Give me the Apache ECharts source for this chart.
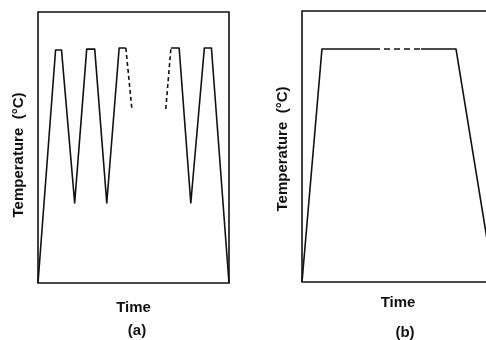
<!DOCTYPE html>
<html>
<head>
<meta charset="utf-8">
<style>
  html, body { margin: 0; padding: 0; background: #fff; }
  #chart { width: 486px; height: 340px; }
</style>
<script src="https://cdn.jsdelivr.net/npm/echarts@6/dist/echarts.min.js"></script>
</head>
<body>
<div id="chart"></div>
<script>
// (a) cyclic heating: time (0-100) vs temperature (0-100), solid runs and the dashed break
const cycleSolidA = [[0, 0], [9.2, 86.0], [12.3, 86.0], [19.2, 29.5], [25.5, 86.3], [29.7, 86.3],
                     [36.0, 29.5], [42.5, 86.7], [46.0, 86.7]];
const cycleDashA1 = [[46.0, 86.7], [49.2, 63.8]];
const cycleDashA2 = [[66.9, 64.2], [69.6, 86.7]];
const cycleSolidA2 = [[69.6, 86.7], [73.9, 86.7], [80.0, 29.5], [87.1, 86.7], [90.8, 86.7], [100, 0]];

// (b) single long hold
const holdSolidB1 = [[0, 0], [10.4, 86.0], [37.5, 86.0]];
const holdDashB = [[37.5, 86.0], [62.0, 86.0]];
const holdSolidB2 = [[62.0, 86.0], [80.2, 86.0], [100, 0]];

const yName = 'Temperature  (°C)';
const xName = 'Time';
const panelTags = ['(a)', '(b)'];

const ink = '#111';
const font = 'Liberation Sans, Arial, Helvetica, sans-serif';
const labelStyle = { color: ink, fontSize: 15, fontWeight: 'bold', fontFamily: font };

function xAx(gridIndex, gap) {
  return {
    type: 'value', gridIndex, min: 0, max: 100,
    axisLine: { show: false }, axisTick: { show: false },
    axisLabel: { show: false }, splitLine: { show: false },
    name: xName, nameLocation: 'middle', nameGap: gap,
    nameTextStyle: labelStyle
  };
}
function yAx(gridIndex, gap, shift) {
  return {
    type: 'value', gridIndex, min: 0, max: 100,
    axisLine: { show: false }, axisTick: { show: false },
    axisLabel: { show: false }, splitLine: { show: false },
    name: yName, nameLocation: 'middle', nameGap: gap, nameRotate: 90,
    nameTextStyle: Object.assign({ padding: [0, shift, 0, 0] }, labelStyle)
  };
}
function line(data, xi, dash) {
  return {
    type: 'line', xAxisIndex: xi, yAxisIndex: xi, data,
    symbol: 'none', silent: true,
    lineStyle: { color: ink, width: 1.6, type: dash || 'solid', join: 'round' }
  };
}

const chart = echarts.init(document.getElementById('chart'), null, { renderer: 'canvas' });
chart.setOption({
  animation: false,
  backgroundColor: '#fff',
  grid: [
    { left: 38, top: 12, width: 191, height: 271, show: true, borderColor: ink, borderWidth: 1.6,
      outerBoundsMode: 'none' },
    { left: 302, top: 11, width: 192, height: 271, show: true, borderColor: ink, borderWidth: 1.6,
      outerBoundsMode: 'none' }
  ],
  xAxis: [xAx(0, 17), xAx(1, 13)],
  yAxis: [yAx(0, 12, 15), yAx(1, 12, 5)],
  title: [
    { text: panelTags[0], left: 132, top: 318, textAlign: 'center', textStyle: labelStyle },
    { text: panelTags[1], left: 400, top: 320, textAlign: 'center', textStyle: labelStyle }
  ],
  series: [
    line(cycleSolidA, 0),
    line(cycleDashA1, 0, [4, 3]),
    line(cycleDashA2, 0, [4, 3]),
    line(cycleSolidA2, 0),
    line(holdSolidB1, 1),
    line(holdDashB, 1, [6, 4]),
    line(holdSolidB2, 1)
  ]
});
</script>
</body>
</html>
